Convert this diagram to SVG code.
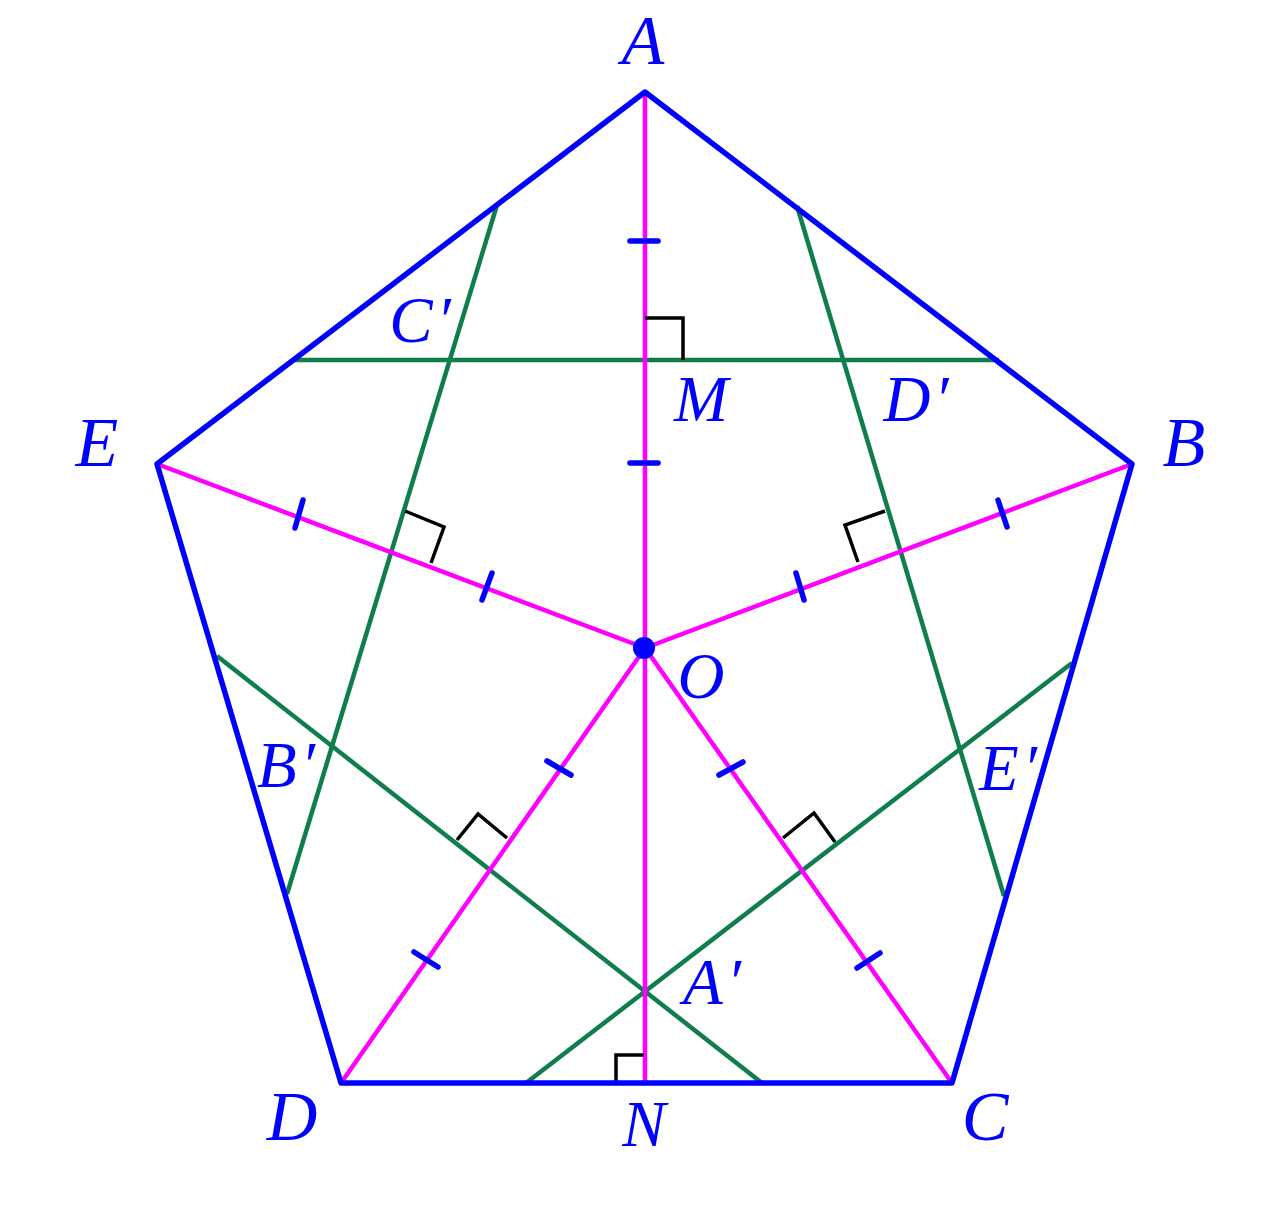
<svg xmlns="http://www.w3.org/2000/svg" width="1285" height="1224" viewBox="0 0 1285 1224">
<style>
.g{stroke:#0f7d4c;stroke-width:4.5;fill:none;stroke-linecap:butt}
.m{stroke:#ff00ff;stroke-width:4.5;fill:none}
.k{stroke:#000;stroke-width:3.5;fill:none}
.b{stroke:#0000ff;stroke-width:5.5;fill:none;stroke-linejoin:round}
.t{stroke:#0000ff;stroke-width:5.5;stroke-linecap:round}
text{font-family:"Liberation Serif","Times New Roman",serif;font-style:italic;fill:#0000ff;text-anchor:middle}
.v{font-size:70px}
.s{font-size:65px}
</style>
<rect width="1285" height="1224" fill="#fff"/>
<g id="connectors">
<g id="bisectors">
<line class="g" x1="293" y1="360" x2="999" y2="360"/>
<line class="g" x1="497" y1="205" x2="287" y2="894"/>
<line class="g" x1="797" y1="206" x2="1004" y2="896"/>
<line class="g" x1="217" y1="656" x2="762" y2="1083"/>
<line class="g" x1="1072" y1="663" x2="526" y2="1083"/>
</g>
<g id="radii">
<line class="m" x1="645" y1="92" x2="645" y2="1083"/>
<line class="m" x1="645" y1="648" x2="157" y2="464"/>
<line class="m" x1="645" y1="648" x2="1132" y2="464"/>
<line class="m" x1="645" y1="648" x2="341" y2="1083"/>
<line class="m" x1="645" y1="648" x2="952" y2="1083"/>
</g>
<g id="right-angles">
<polyline class="k" points="645,318 683,318 683,360"/>
<polyline class="k" points="405,511 444,527 431,563"/>
<polyline class="k" points="885,511 845,525 858,562"/>
<polyline class="k" points="457,840 478,814 507,838"/>
<polyline class="k" points="783,838 814,813 835,842"/>
<polyline class="k" points="616,1083 616,1055 644,1055"/>
</g>
<g id="pentagon">
<polygon class="b" points="645,92 1132,464 952,1083 341,1083 157,464"/>
</g>
<g id="ticks">
<line class="t" x1="630" y1="241" x2="658" y2="241"/>
<line class="t" x1="630" y1="463" x2="658" y2="463"/>
<line class="t" x1="303" y1="500" x2="295" y2="528"/>
<line class="t" x1="492" y1="573" x2="482" y2="600"/>
<line class="t" x1="796" y1="573" x2="804" y2="600"/>
<line class="t" x1="998" y1="500" x2="1007" y2="527"/>
<line class="t" x1="547" y1="761" x2="571" y2="775"/>
<line class="t" x1="719" y1="775" x2="743" y2="762"/>
<line class="t" x1="414" y1="952" x2="438" y2="967"/>
<line class="t" x1="857" y1="968" x2="880" y2="953"/>
</g>
</g>
<g id="O"><circle cx="644" cy="648" r="11" fill="#0000ff"/><text class="s" x="701" y="698">O</text></g>
<g id="A"><text class="v" x="643" y="64">A</text></g>
<g id="B"><text class="v" x="1184" y="466">B</text></g>
<g id="C"><text class="v" x="985" y="1140">C</text></g>
<g id="D"><text class="v" x="292" y="1140">D</text></g>
<g id="E"><text class="v" x="97" y="466">E</text></g>
<g id="M"><text class="s" x="701" y="421">M</text></g>
<g id="N"><text class="s" x="644" y="1146">N</text></g>
<g id="A1"><text class="s" x="712" y="1004">A<tspan dx="4">′</tspan></text></g>
<g id="B1"><text class="s" x="286" y="787">B<tspan dx="4">′</tspan></text></g>
<g id="C1"><text class="s" x="420" y="342">C<tspan dx="4">′</tspan></text></g>
<g id="D1"><text class="s" x="916" y="421">D<tspan dx="4">′</tspan></text></g>
<g id="E1"><text class="s" x="1008" y="790">E<tspan dx="4">′</tspan></text></g>
</svg>
